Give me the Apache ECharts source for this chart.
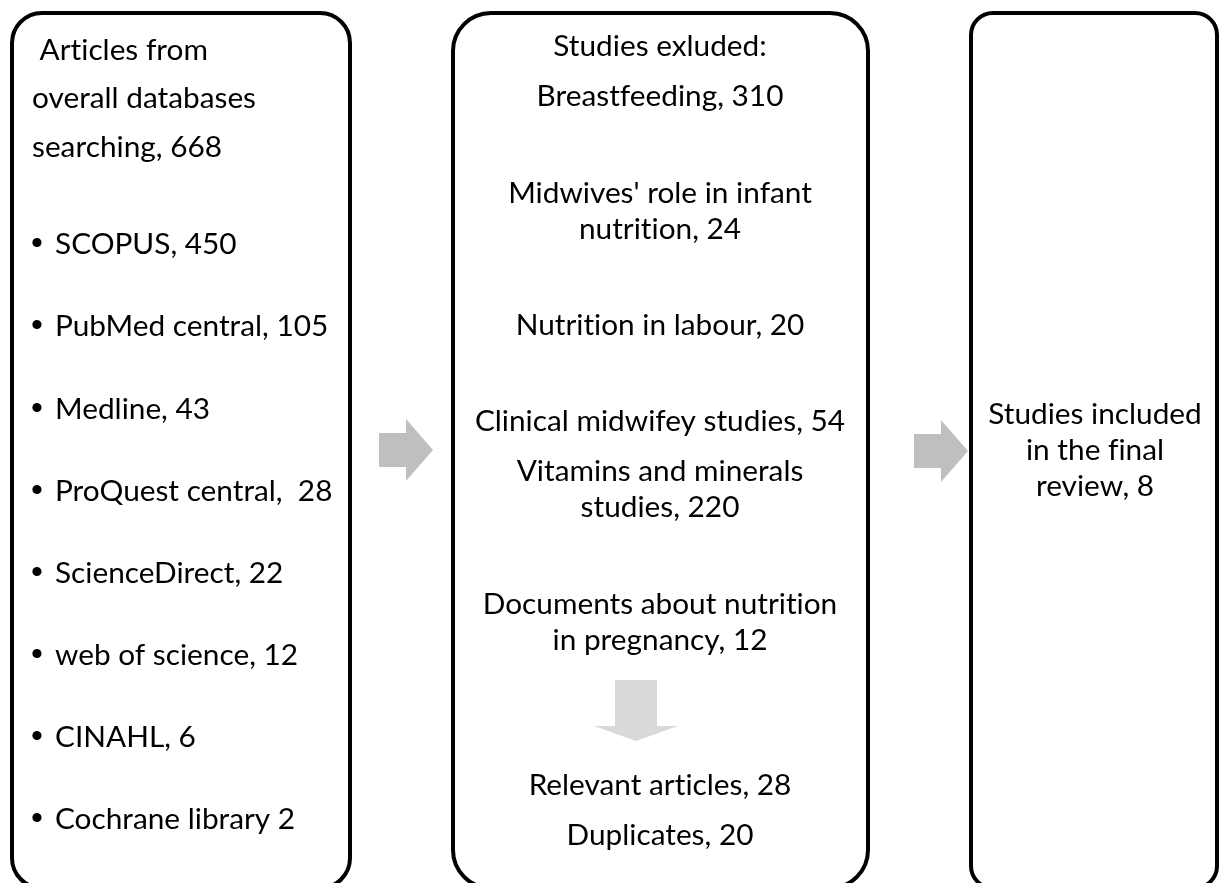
<!DOCTYPE html>
<html>
<head>
<meta charset="utf-8">
<script src="https://cdn.jsdelivr.net/npm/echarts@6/dist/echarts.min.js"></script>
<style>
  html, body { margin: 0; padding: 0; background: #fff; }
  #main { width: 1222px; height: 883px; }
</style>
</head>
<body>
<div id="main"></div>
<script>
// ── 数据 ──
const searchTitle = [' Articles from', 'overall databases', 'searching'];
const searchTotal = 668;
const dbNames = ['SCOPUS', 'PubMed central', 'Medline', 'ProQuest central',
                 'ScienceDirect', 'web of science', 'CINAHL', 'Cochrane library'];
const dbCounts = [450, 105, 43, 28, 22, 12, 6, 2];
const dbSeps = [', ', ', ', ', ', ',  ', ', ', ', ', ', ', ' '];

const excludedHeader = 'Studies exluded:';
const excludedNames = ['Breastfeeding', "Midwives' role in infant\nnutrition", 'Nutrition in labour',
                       'Clinical midwifey studies', 'Vitamins and minerals\nstudies',
                       'Documents about nutrition\nin pregnancy'];
const excludedCounts = [310, 24, 20, 54, 220, 12];
const screenedNames = ['Relevant articles', 'Duplicates'];
const screenedCounts = [28, 20];
const includedLabel = 'Studies included\nin the final\nreview';
const includedCount = 8;

// ── 版式 ──
const FONT = 'Lato, "Noto Sans", sans-serif';
const FS = 29;
const ctx = document.createElement('canvas').getContext('2d');
ctx.font = FS + 'px Lato';
const SX = 224 / ctx.measureText('overall databases').width; // 压到 Calibri 的字宽

// Lato 有 ti / ft 连字，原图没有，插入零宽不连字符拆开
const noLig = s => s.replace(/([ft])(?=[ift])/g, '$1\u200C');

function txt(x, y, text, align, lh) {
  return {
    type: 'text', x, y, scaleX: SX, silent: true,
    style: { text: noLig(text), fill: '#000', fontSize: FS, fontFamily: FONT,
             align, verticalAlign: 'middle', lineHeight: lh || FS }
  };
}
function box(x, w, r) {
  return {
    type: 'rect', silent: true,
    shape: { x, y: 13, width: w, height: 875, r },
    style: { fill: '#fff', stroke: '#000', lineWidth: 4 }
  };
}
function rightArrow(x, y, color) {
  // x: 左端, y: 中线
  return {
    type: 'polygon', silent: true,
    shape: { points: [[x, y - 17], [x + 27, y - 17], [x + 27, y - 31], [x + 54, y],
                      [x + 27, y + 31], [x + 27, y + 17], [x, y + 17]] },
    style: { fill: color }
  };
}

const els = [
  box(12, 338, 30),
  box(453, 415, 38),
  box(971, 246, 22),
  rightArrow(379, 450, '#bfbfbf'),
  rightArrow(914, 451, '#bfbfbf'),
  {
    type: 'polygon', silent: true,
    shape: { points: [[615, 680], [657, 680], [657, 726], [678, 726], [636, 741], [594, 726], [615, 726]] },
    style: { fill: '#d9d9d9' }
  }
];

// 左框
const title = searchTitle.slice();
title[title.length - 1] += ', ' + searchTotal;
els.push(txt(32, 99, title.join('\n'), 'left', 48.5));
dbNames.forEach((n, i) => {
  const y = 245 + i * 82.1;
  els.push({
    type: 'text', x: 31, y: y, silent: true,
    style: { text: '\u2022', fill: '#000', fontSize: 34, fontFamily: '"Liberation Sans", Arial',
             align: 'left', verticalAlign: 'middle' }
  });
  els.push(txt(55, y, n + dbSeps[i] + dbCounts[i], 'left'));
});

// 中框
const cx = 660;
const exclY = [97, 211.5, 326, 422, 489.5, 622.5];
els.push(txt(cx, 47, excludedHeader, 'center'));
excludedNames.forEach((n, i) => {
  els.push(txt(cx, exclY[i], n + ', ' + excludedCounts[i], 'center', 36));
});
const scrY = [786, 836];
screenedNames.forEach((n, i) => {
  els.push(txt(cx, scrY[i], n + ', ' + screenedCounts[i], 'center'));
});

// 右框
els.push(txt(1095, 451, includedLabel + ', ' + includedCount, 'center', 36));

const chart = echarts.init(document.getElementById('main'));
chart.setOption({
  animation: false,
  backgroundColor: '#fff',
  graphic: { elements: els }
});
</script>
</body>
</html>
